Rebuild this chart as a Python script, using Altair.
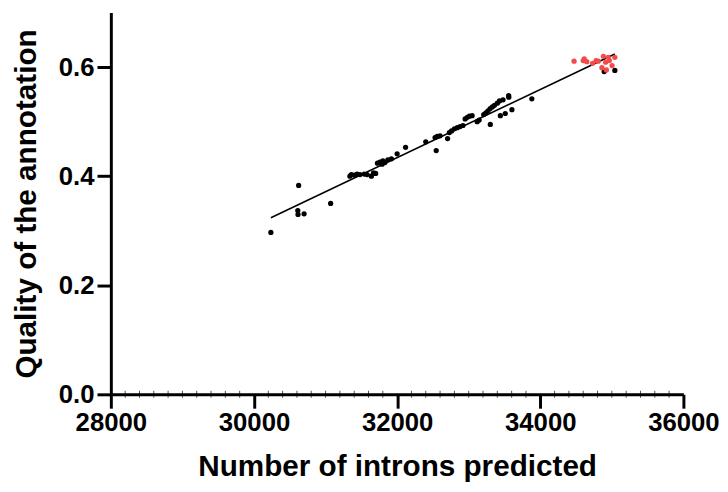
import altair as alt
import pandas as pd

# Black points (number of introns predicted, quality of the annotation)
black_x = [30236, 30624, 30612, 30615, 30700, 31071,
           31340, 31360, 31400, 31440, 31480, 31540, 31580, 31640, 31670, 31700,
           31725, 31760, 31790, 31800, 31830, 31870, 31920, 32000, 32118,
           32400, 32530, 32546, 32560, 32600, 32705, 32730, 32760, 32800, 32840, 32880, 32920,
           32950, 32980, 33010, 33048, 33118, 33146, 33210, 33240, 33270, 33302, 33300, 33330,
           33360, 33400, 33430, 33442, 33480, 33511, 33558, 33560, 33604, 33882, 34893, 35042]
black_y = [0.297, 0.383, 0.337, 0.330, 0.331, 0.350,
           0.400, 0.403, 0.402, 0.404, 0.403, 0.404, 0.403, 0.400, 0.406, 0.405,
           0.424, 0.426, 0.422, 0.428, 0.425, 0.430, 0.432, 0.441, 0.453,
           0.463, 0.471, 0.447, 0.473, 0.474, 0.469, 0.480, 0.483, 0.487, 0.489, 0.491, 0.493,
           0.505, 0.508, 0.510, 0.511, 0.500, 0.503, 0.513, 0.516, 0.520, 0.495, 0.524, 0.527,
           0.530, 0.534, 0.538, 0.511, 0.540, 0.515, 0.548, 0.545, 0.522, 0.542, 0.592, 0.594]

# Red points
red_x = [34472, 34600, 34615, 34650, 34731, 34780, 34810, 34861, 34882, 34913,
         34924, 34950, 34965, 35003, 35042]
red_y = [0.611, 0.612, 0.615, 0.610, 0.607, 0.612, 0.611, 0.599, 0.620, 0.609,
         0.595, 0.618, 0.612, 0.603, 0.618]

x_ticks = [28000, 30000, 32000, 34000, 36000]
y_ticks = [0.0, 0.2, 0.4, 0.6]
minor_x = [v for v in range(28200, 36000, 200) if v % 2000 != 0]

df = pd.DataFrame({
    "introns": black_x + red_x,
    "quality": black_y + red_y,
    "group": ["other"] * len(black_x) + ["top"] * len(red_x),
})

xscale = alt.Scale(domain=[28000, 36000], nice=False, zero=False)
yscale = alt.Scale(domain=[0, 0.7], nice=False)

x_axis = alt.Axis(values=x_ticks, format="d", title="Number of introns predicted",
                  labelFlush=False, labelPadding=2, titlePadding=16)
y_axis = alt.Axis(values=y_ticks, format=".1f", title="Quality of the annotation",
                  labelPadding=3, titlePadding=17)

base = alt.Chart(df)

points = base.mark_circle(size=28, opacity=1).encode(
    x=alt.X("introns:Q", scale=xscale, axis=x_axis),
    y=alt.Y("quality:Q", scale=yscale, axis=y_axis),
    color=alt.Color("group:N",
                    scale=alt.Scale(domain=["other", "top"], range=["black", "#f44a4a"]),
                    legend=None),
)

line = base.transform_regression("introns", "quality").mark_line(
    color="black", strokeWidth=1.6
).encode(
    x=alt.X("introns:Q", scale=xscale, axis=x_axis),
    y=alt.Y("quality:Q", scale=yscale, axis=y_axis),
)

minor = alt.Chart(pd.DataFrame({"v": minor_x})).mark_tick(
    orient="vertical", color="black", thickness=1, size=7
).encode(
    x=alt.X("v:Q", scale=xscale, axis=x_axis),
    y=alt.datum(0, type="quantitative", scale=yscale),
)

chart = alt.layer(minor, line, points).properties(
    width=579,
    height=386,
    autosize=alt.AutoSizeParams(type="none"),
    padding={"left": 104, "top": 2, "right": 37, "bottom": 88},
).configure_view(stroke=None).configure_axis(
    grid=False,
    domainColor="black",
    domainWidth=3,
    tickColor="black",
    tickWidth=3,
    tickSize=14,
    labelFont="Liberation Sans",
    labelFontSize=26,
    labelFontWeight="bold",
    labelColor="black",
    titleFont="Liberation Sans",
    titleFontSize=30,
    titleFontWeight="bold",
    titleColor="black",
)

chart.save("out.html", embed_options={"renderer": "svg", "actions": False})
